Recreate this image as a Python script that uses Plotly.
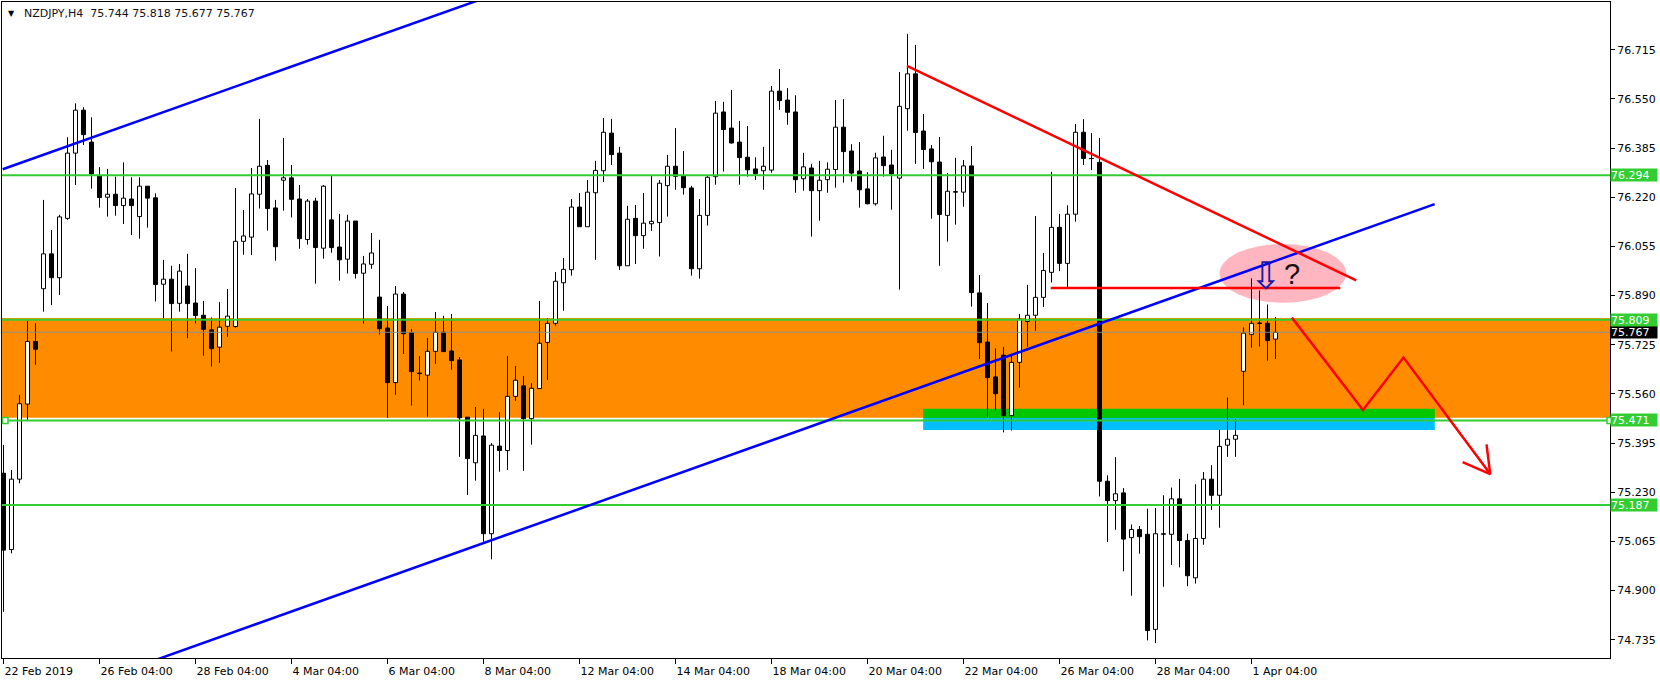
import plotly.graph_objects as go

# ---------------- data ----------------
opens = [75.294, 75.038, 75.274, 75.526, 75.736, 75.913, 76.030, 75.950, 76.149, 76.368,
         76.512, 76.405, 76.292, 76.220, 76.230, 76.192, 76.214, 76.155, 76.257, 76.218,
         75.928, 75.945, 75.864, 75.922, 75.865, 75.824, 75.775, 75.717, 75.787, 75.786,
         76.072, 76.086, 76.230, 76.327, 76.184, 76.277, 76.285, 76.214, 76.078, 76.207,
         76.049, 76.144, 76.053, 76.012, 76.140, 75.965, 75.995, 75.885, 75.781, 75.598,
         75.895, 75.766, 75.629, 75.623, 75.703, 75.767, 75.704, 75.674, 75.482, 75.329,
         75.419, 75.091, 75.385, 75.370, 75.552, 75.587, 75.477, 75.578, 75.733, 75.797,
         75.933, 75.977, 76.187, 76.121, 76.235, 76.309, 76.435, 76.368, 75.990, 76.149,
         76.091, 76.131, 76.135, 76.259, 76.324, 76.292, 76.251, 75.980, 76.159, 76.289,
         76.506, 76.452, 76.405, 76.354, 76.315, 76.309, 76.311, 76.576, 76.546, 76.506,
         76.282, 76.318, 76.242, 76.279, 76.313, 76.455, 76.375, 76.308, 76.248, 76.198,
         76.355, 76.328, 76.284, 76.517, 76.634, 76.442, 76.382, 76.338, 76.159, 76.238,
         76.237, 76.325, 75.899, 75.734, 75.617, 75.690, 75.487, 75.666, 75.803, 75.824,
         75.884, 75.968, 76.119, 75.998, 76.163, 76.438, 76.350, 76.337, 75.267, 75.202,
         75.228, 75.078, 75.105, 75.089, 74.770, 75.090, 75.089, 75.208, 75.068, 74.943,
         75.075, 75.274, 75.220, 75.388, 75.408, 75.636, 75.760, 75.797, 75.797, 75.744]
highs = [75.389, 75.305, 75.557, 75.806, 75.797, 76.211, 76.110, 76.161, 76.421, 76.535,
         76.522, 76.488, 76.321, 76.315, 76.289, 76.337, 76.287, 76.287, 76.257, 76.233,
         76.010, 75.990, 75.996, 76.030, 75.982, 75.872, 75.817, 75.868, 75.912, 76.251,
         76.177, 76.318, 76.483, 76.345, 76.211, 76.419, 76.328, 76.261, 76.214, 76.218,
         76.261, 76.292, 76.164, 76.161, 76.140, 76.023, 76.100, 76.077, 75.855, 75.922,
         75.902, 75.778, 75.687, 75.748, 75.835, 75.822, 75.828, 75.684, 75.482, 75.516,
         75.510, 75.395, 75.499, 75.687, 75.654, 75.620, 75.596, 75.872, 75.814, 75.969,
         76.016, 76.214, 76.234, 76.278, 76.342, 76.486, 76.483, 76.389, 76.191, 76.194,
         76.234, 76.294, 76.278, 76.362, 76.452, 76.375, 76.258, 76.214, 76.291, 76.543,
         76.540, 76.580, 76.476, 76.459, 76.354, 76.389, 76.593, 76.650, 76.586, 76.562,
         76.369, 76.332, 76.342, 76.337, 76.546, 76.549, 76.398, 76.405, 76.304, 76.369,
         76.426, 76.379, 76.640, 76.768, 76.731, 76.499, 76.395, 76.422, 76.301, 76.352,
         76.345, 76.392, 75.959, 75.865, 75.713, 75.718, 75.691, 75.828, 75.926, 76.157,
         76.033, 76.305, 76.164, 76.193, 76.466, 76.482, 76.435, 76.419, 75.287, 75.348,
         75.244, 75.122, 75.117, 75.175, 75.177, 75.220, 75.246, 75.275, 75.091, 75.257,
         75.298, 75.321, 75.440, 75.548, 75.476, 75.783, 75.948, 75.907, 75.860, 75.818]
lows = [74.829, 75.025, 75.260, 75.473, 75.658, 75.836, 75.858, 75.892, 76.144, 76.261,
        76.395, 76.249, 76.185, 76.155, 76.158, 76.130, 76.093, 76.081, 76.118, 75.870,
        75.814, 75.702, 75.836, 75.747, 75.797, 75.688, 75.652, 75.664, 75.752, 75.782,
        76.027, 76.026, 76.182, 76.108, 76.007, 76.175, 76.152, 76.047, 76.061, 75.930,
        76.014, 76.034, 75.940, 75.964, 75.947, 75.796, 75.980, 75.759, 75.480, 75.557,
        75.694, 75.521, 75.605, 75.484, 75.661, 75.702, 75.641, 75.349, 75.221, 75.269,
        75.064, 75.005, 75.299, 75.305, 75.537, 75.302, 75.390, 75.578, 75.607, 75.789,
        75.839, 75.957, 76.121, 76.121, 76.010, 76.271, 76.328, 75.976, 75.990, 75.996,
        76.047, 76.107, 76.021, 76.155, 76.245, 76.229, 75.957, 75.947, 76.125, 76.262,
        76.306, 76.400, 76.262, 76.289, 76.278, 76.245, 76.302, 76.513, 76.463, 76.235,
        76.242, 76.088, 76.141, 76.235, 76.252, 76.269, 76.272, 76.185, 76.196, 76.192,
        76.289, 76.178, 75.910, 76.443, 76.332, 76.315, 76.148, 75.990, 76.071, 76.128,
        76.188, 75.853, 75.677, 75.484, 75.504, 75.431, 75.437, 75.581, 75.718, 75.772,
        75.852, 75.934, 75.972, 75.919, 76.138, 76.328, 76.311, 75.216, 75.063, 75.104,
        74.965, 74.883, 75.024, 74.733, 74.724, 74.913, 74.986, 74.978, 74.915, 74.924,
        75.054, 75.171, 75.111, 75.349, 75.349, 75.522, 75.715, 75.719, 75.672, 75.677]
closes = [75.036, 75.274, 75.527, 75.736, 75.710, 76.030, 75.950, 76.154, 76.368, 76.512,
          76.430, 76.298, 76.219, 76.230, 76.192, 76.217, 76.192, 76.257, 76.217, 75.927,
          75.945, 75.863, 75.972, 75.863, 75.823, 75.777, 75.712, 75.784, 75.821, 76.072,
          76.090, 76.231, 76.324, 76.182, 76.054, 76.285, 76.213, 76.081, 76.207, 76.051,
          76.257, 76.051, 76.010, 76.140, 75.964, 75.996, 76.033, 75.779, 75.598, 75.895,
          75.762, 75.635, 75.629, 75.703, 75.767, 75.702, 75.672, 75.480, 75.343, 75.421,
          75.091, 75.388, 75.370, 75.552, 75.606, 75.477, 75.579, 75.730, 75.797, 75.938,
          75.978, 76.187, 76.121, 76.237, 76.310, 76.438, 76.363, 75.990, 76.146, 76.091,
          76.133, 76.139, 76.267, 76.324, 76.290, 76.252, 75.980, 76.159, 76.287, 76.502,
          76.447, 76.402, 76.353, 76.312, 76.299, 76.324, 76.576, 76.544, 76.505, 76.279,
          76.322, 76.242, 76.277, 76.314, 76.455, 76.373, 76.301, 76.245, 76.198, 76.352,
          76.326, 76.298, 76.525, 76.634, 76.437, 76.380, 76.339, 76.162, 76.240, 76.238,
          76.325, 75.900, 75.732, 75.615, 75.561, 75.487, 75.666, 75.811, 75.824, 75.884,
          75.974, 76.119, 75.998, 76.163, 76.438, 76.350, 76.350, 75.267, 75.202, 75.225,
          75.073, 75.105, 75.081, 74.766, 75.091, 75.090, 75.208, 75.068, 74.950, 75.075,
          75.274, 75.220, 75.384, 75.408, 75.421, 75.764, 75.797, 75.797, 75.739, 75.767]

tick_index = [0, 12, 24, 36, 48, 60, 72, 84, 96, 108, 120, 132, 144, 156]
tick_text = ["22 Feb 2019", "26 Feb 04:00", "28 Feb 04:00", "4 Mar 04:00", "6 Mar 04:00",
             "8 Mar 04:00", "12 Mar 04:00", "14 Mar 04:00", "18 Mar 04:00", "20 Mar 04:00",
             "22 Mar 04:00", "26 Mar 04:00", "28 Mar 04:00", "1 Apr 04:00"]
price_ticks = [76.715, 76.550, 76.385, 76.220, 76.055, 75.890, 75.725,
               75.560, 75.395, 75.230, 75.065, 74.900, 74.735]

levels = [76.294, 75.809, 75.471, 75.187]
last_price = 75.767
header = "NZDJPY,H4\u00a0\u00a075.744 75.818 75.677 75.767"

zone_orange = [75.480, 75.815]
zone_green = [114.96, 178.91, 75.479, 75.510]
zone_blue = [114.96, 178.91, 75.439, 75.479]
ellipse = [152.0, 167.84, 75.866, 76.063]

upper_ch_x, upper_ch_y = [-0.1, 62.0], [76.314, 76.906]
lower_ch_x, lower_ch_y = [15.0, 178.9], [74.629, 76.197]
red_trend_x, red_trend_y = [112.93, 169.09], [76.661, 75.941]
red_h_x, red_h_y = [130.9, 167.1], [75.915, 75.915]
zig_x, zig_y = [161.05, 169.93, 175.0, 185.84], [75.816, 75.506, 75.682, 75.291]
head_x, head_y = [182.39, 185.84, 185.38], [75.331, 75.291, 75.391]
arrow_sym = (157.8, 75.955)
qmark = (161.1, 75.963)

# ---------------- build figure ----------------
FONT = "DejaVu Sans"
n = len(opens)
xs = list(range(n))
base = [min(o, c) for o, c in zip(opens, closes)]
height = [abs(c - o) for o, c in zip(opens, closes)]
colors = ["white" if c >= o else "black" for o, c in zip(opens, closes)]

wx, wy = [], []
for i in xs:
    top = max(opens[i], closes[i])
    bot = min(opens[i], closes[i])
    wx += [i, i, None, i, i, None]
    wy += [highs[i], top, None, bot, lows[i], None]
    if opens[i] == closes[i]:
        wx += [i - 0.28, i + 0.28, None]
        wy += [opens[i], opens[i], None]

fig = go.Figure()
fig.add_trace(go.Bar(x=xs, y=height, base=base, width=0.5,
                     marker=dict(color=colors, line=dict(color="black", width=1)),
                     hoverinfo="skip"))
fig.add_trace(go.Scatter(x=wx, y=wy, mode="lines", line=dict(color="black", width=1),
                         hoverinfo="skip"))

XR = [-0.1875, 200.8125]
fig.add_trace(go.Scatter(x=XR, y=[last_price, last_price], mode="lines",
                         line=dict(color="#8c8c8c", width=1), hoverinfo="skip"))
for lv in levels:
    fig.add_trace(go.Scatter(x=XR, y=[lv, lv], mode="lines",
                             line=dict(color="#32CD32", width=2), hoverinfo="skip"))

def add_line(x, y, color):
    fig.add_trace(go.Scatter(x=x, y=y, mode="lines", line=dict(color=color, width=2.5),
                             hoverinfo="skip"))

add_line(upper_ch_x, upper_ch_y, "#0000FF")
add_line(lower_ch_x, lower_ch_y, "#0000FF")
add_line(red_trend_x, red_trend_y, "#FF0000")
add_line(red_h_x, red_h_y, "#FF0000")
add_line(zig_x, zig_y, "#FF0000")
add_line(head_x, head_y, "#FF0000")

shapes = [
    dict(type="rect", xref="paper", yref="y", x0=0, x1=1, y0=zone_orange[0], y1=zone_orange[1],
         fillcolor="#FF8C00", line=dict(width=0), layer="below"),
    dict(type="rect", xref="x", yref="y", x0=zone_green[0], x1=zone_green[1],
         y0=zone_green[2], y1=zone_green[3], fillcolor="#00C800", line=dict(width=0), layer="below"),
    dict(type="rect", xref="x", yref="y", x0=zone_blue[0], x1=zone_blue[1],
         y0=zone_blue[2], y1=zone_blue[3], fillcolor="#00BFFF", line=dict(width=0), layer="below"),
    dict(type="circle", xref="x", yref="y", x0=ellipse[0], x1=ellipse[1],
         y0=ellipse[2], y1=ellipse[3], fillcolor="#FFB6C1", line=dict(width=0), layer="below"),
]
for xa, x0, x1 in [(0, 0.5, 6), (1, -3, 3)]:
    shapes.append(dict(type="rect", xref="paper", yref="y", xsizemode="pixel", ysizemode="pixel",
                       xanchor=xa, yanchor=levels[2], x0=x0, x1=x1, y0=-3, y1=3,
                       fillcolor="white", line=dict(color="#32CD32", width=1.5), layer="above"))

annotations = []
def price_box(val, bg):
    annotations.append(dict(xref="paper", yref="y", x=1, y=val, xanchor="left", yanchor="middle",
                            xshift=0, text=f"{val:.3f}", showarrow=False, align="left",
                            bgcolor=bg, width=46, height=12, borderpad=0,
                            font=dict(family=FONT, size=11, color="white")))
price_box(last_price, "black")
for lv in levels:
    price_box(lv, "#32CD32")

annotations.append(dict(xref="paper", yref="paper", x=0, y=1, xshift=9.3, yshift=-11,
                        xanchor="center", yanchor="middle", text="▼", showarrow=False,
                        font=dict(family=FONT, size=8, color="black")))
annotations.append(dict(xref="paper", yref="paper", x=0, y=1, xshift=19.7, yshift=-11,
                        xanchor="left", yanchor="middle", text=header, showarrow=False,
                        font=dict(family=FONT, size=11, color="#101020")))
annotations.append(dict(xref="x", yref="y", x=arrow_sym[0], y=arrow_sym[1], text="⇩",
                        showarrow=False, font=dict(family=FONT, size=38, color="#1a1aa8")))
annotations.append(dict(xref="x", yref="y", x=qmark[0], y=qmark[1], text="?",
                        showarrow=False, font=dict(family="Liberation Sans", size=29, color="#111111")))

fig.update_layout(width=1660, height=684, margin=dict(l=2, r=50, t=2, b=26, autoexpand=False),
                  paper_bgcolor="white", plot_bgcolor="white", showlegend=False,
                  barmode="overlay", bargap=0, shapes=shapes, annotations=annotations)
fig.update_xaxes(range=XR, tickmode="array", tickvals=tick_index, ticktext=tick_text,
                 ticks="outside", ticklen=5, tickcolor="black", showgrid=False, zeroline=False,
                 showline=True, mirror=True, linecolor="black", linewidth=1,
                 ticklabelposition="outside right", ticklabelstandoff=3, automargin=False,
                 tickfont=dict(family=FONT, size=11, color="black"), fixedrange=True)
fig.update_yaxes(range=[74.674, 76.875], side="right", tickmode="array", tickvals=price_ticks,
                 ticktext=[f"{v:.3f}" for v in price_ticks], ticks="outside", ticklen=4,
                 tickcolor="black", showgrid=False, zeroline=False, showline=True, mirror=True,
                 linecolor="black", linewidth=1, automargin=False,
                 tickfont=dict(family=FONT, size=11, color="black"), fixedrange=True)

fig.write_html("out.html", config={"displayModeBar": False, "staticPlot": True},
               post_script="document.body.style.margin='0';document.body.style.padding='0';document.body.style.overflow='hidden';")
